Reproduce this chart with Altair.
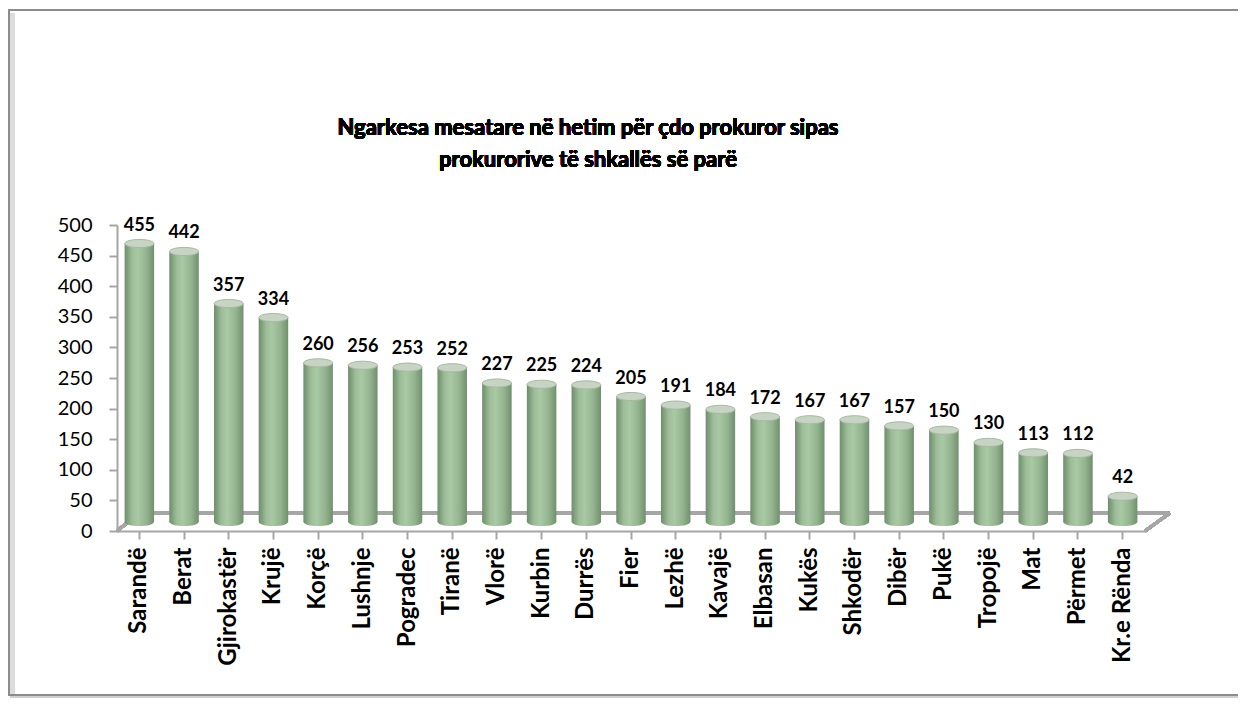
import altair as alt
import pandas as pd

categories = ["Sarandë", "Berat", "Gjirokastër", "Krujë", "Korçë", "Lushnje", "Pogradec",
              "Tiranë", "Vlorë", "Kurbin", "Durrës", "Fier", "Lezhë", "Kavajë", "Elbasan",
              "Kukës", "Shkodër", "Dibër", "Pukë", "Tropojë", "Mat", "Përmet", "Kr.e Rënda"]
values = [455, 442, 357, 334, 260, 256, 253, 252, 227, 225, 224, 205, 191, 184, 172,
          167, 167, 157, 150, 130, 113, 112, 42]
y_ticks = [0, 50, 100, 150, 200, 250, 300, 350, 400, 450, 500]
title_line1 = "Ngarkesa mesatare në hetim për çdo prokuror sipas"
title_line2 = "prokurorive të shkallës së parë"

df = pd.DataFrame({"cat": categories, "val": values})

W, H = 1028, 306
FONT = "Lato"
LIFT = -9

x = alt.X("cat:N", sort=categories,
          scale=alt.Scale(paddingInner=0.34, paddingOuter=0.17),
          axis=alt.Axis(title=None, labelAngle=-90, labelFont=FONT, labelFontSize=24,
                        labelFontWeight="bold", labelColor="black", labelPadding=8,
                        tickColor="#a6a6a6", tickSize=8, domainColor="#a6a6a6",
                        domainWidth=2, tickWidth=2, labelAlign="right", labelBaseline="middle"))
y = alt.Y("val:Q", scale=alt.Scale(domain=[0, 500], nice=False),
          axis=alt.Axis(title=None, values=y_ticks, labelFont=FONT, labelFontSize=20,
                        labelColor="black", tickColor="#a6a6a6", tickSize=8, tickWidth=2,
                        domainColor="#a6a6a6", domainWidth=2, grid=False, labelPadding=17))

base = alt.Chart(df)

grad = alt.Gradient(gradient="linear",
                    stops=[alt.GradientStop(color="#6e8d6c", offset=0),
                           alt.GradientStop(color="#9cbd97", offset=0.25),
                           alt.GradientStop(color="#a9c9a4", offset=0.45),
                           alt.GradientStop(color="#92b38d", offset=0.75),
                           alt.GradientStop(color="#718f6f", offset=1)],
                    x1=0, x2=1, y1=0, y2=0)

# frame / border with soft shadow
shadow_l = base.mark_rule(color="#dcdcdc", strokeWidth=5).encode(
    x=alt.value(-104.5), x2=alt.value(-104.5), y=alt.value(-212), y2=alt.value(469))
shadow_b = base.mark_rule(color="#cfcfcf", strokeWidth=5).encode(
    x=alt.value(-107), x2=alt.value(1123), y=alt.value(473.5), y2=alt.value(473.5))
frame = base.mark_rect(fillOpacity=0, stroke="#8c8c8c", strokeWidth=2).encode(
    x=alt.value(-108), x2=alt.value(1122), y=alt.value(-215), y2=alt.value(470))

# floor
floor_style = dict(color="#a6a6a6", strokeWidth=3)
floor_back = base.mark_rule(**floor_style).encode(
    x=alt.value(22), x2=alt.value(1053), y=alt.value(H - 18), y2=alt.value(H - 18))
floor_right = base.mark_rule(**floor_style).encode(
    x=alt.value(W), x2=alt.value(1053), y=alt.value(H), y2=alt.value(H - 18))
floor_left = base.mark_rule(**floor_style).encode(
    x=alt.value(0), x2=alt.value(22), y=alt.value(H), y2=alt.value(H - 18))

bars = base.mark_bar(fill=grad, yOffset=LIFT).encode(x=x, y=y)

ell = "M -1 0 A 1 0.28 0 1 0 1 0 A 1 0.28 0 1 0 -1 0 Z"
bottoms = base.mark_point(shape=ell, filled=True, fill=grad, opacity=1, size=850,
                          yOffset=LIFT).encode(x=x, y=alt.value(H))
caps = base.mark_point(shape=ell, filled=True, fill="#c7d3c3", stroke="#a6b8a2",
                       strokeWidth=1, opacity=1, size=850, yOffset=LIFT).encode(x=x, y=y)

labels = base.mark_text(font=FONT, fontSize=18, fontWeight="bold", color="black",
                        baseline="bottom", dy=LIFT - 9).encode(x=x, y=y, text="val:Q")

title_style = dict(font=FONT, fontSize=22, fontWeight="bold", color="black",
                   align="center", baseline="middle")
t1 = base.mark_text(text=title_line1, **title_style).encode(x=alt.value(471), y=alt.value(-97))
t2 = base.mark_text(text=title_line2, **title_style).encode(x=alt.value(471), y=alt.value(-65))

chart = alt.layer(shadow_l, shadow_b, frame, floor_back, floor_right, floor_left, bottoms,
                  bars, caps, labels, t1, t2).properties(
    width=W, height=H,
    background="white",
    autosize=alt.AutoSizeParams(type="none"),
    padding={"left": 109, "top": 217, "right": 93, "bottom": 167},
).configure_view(stroke=None)

chart.save("out.html", embed_options={"renderer": "svg", "actions": False})
